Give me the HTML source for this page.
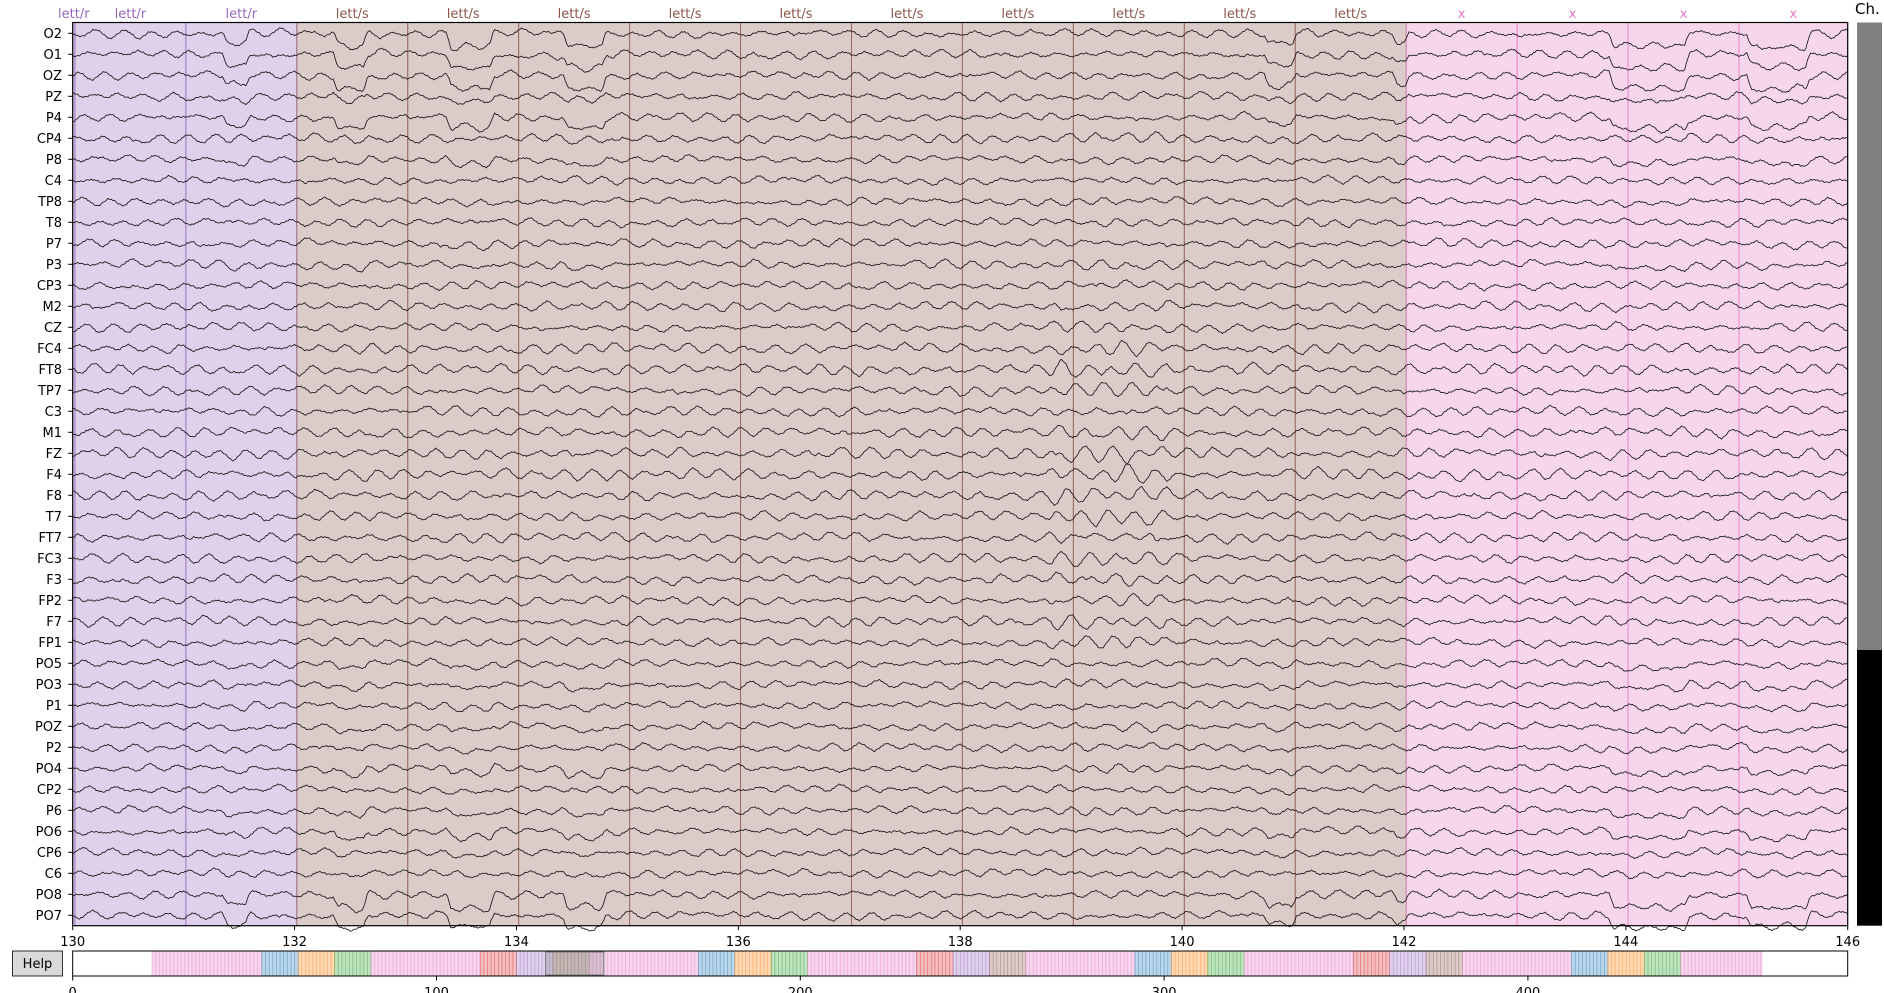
<!DOCTYPE html>
<html><head><meta charset="utf-8">
<style>
html,body{margin:0;padding:0;background:#fff;}
svg{display:block;font-family:"DejaVu Sans","Liberation Sans",sans-serif;}
</style></head>
<body>
<svg id="fig" width="1884" height="993" viewBox="0 0 1884 993" xmlns="http://www.w3.org/2000/svg">
  <rect x="0" y="0" width="1884" height="993" fill="#ffffff"/>
  <g id="ann-bg"></g>
  <g id="ann-lines"></g>
  <g id="traces"></g>
  <rect x="72.7" y="22.5" width="1775" height="903.2" fill="none" stroke="#000" stroke-width="1.2"/>
  <g id="ylabels" font-size="13" text-anchor="end"></g>
  <g id="ann-labels" font-size="13" text-anchor="middle"></g>
  <g id="xaxis" font-size="13" text-anchor="middle"></g>
  <text x="1855" y="14" font-size="15">Ch.</text>
  <rect x="1857" y="22.5" width="25" height="903.2" fill="#000"/>
  <rect x="1857" y="22.5" width="25" height="627.5" fill="#808080"/>
  <rect x="12.5" y="951" width="50" height="25" fill="#d9d9d9" stroke="#000" stroke-width="0.8"/>
  <text x="37.5" y="968" font-size="13" text-anchor="middle">Help</text>
  <g id="overview"></g>
</svg>
<script>
// ---- data ----
const channels = ["O2","O1","OZ","PZ","P4","CP4","P8","C4","TP8","T8","P7","P3","CP3","M2","CZ","FC4","FT8","TP7","C3","M1","FZ","F4","F8","T7","FT7","FC3","F3","FP2","F7","FP1","PO5","PO3","P1","POZ","P2","PO4","CP2","P6","PO6","CP6","C6","PO8","PO7"];
const stepGain = [1,1,1,0.3,0.8,0.1,0.3,0,0.1,0,0.1,0.2,0,0,0,0,0,0,0,0,0,0,0,0,0,0,0,0,0,0,0.3,0.3,0.2,0.3,0.2,0.4,0.1,0.3,0.5,0.2,0.1,1,0.9];
const wigGain = [1,1,1,1,1,1.1,0.9,0.9,0.9,1,1,1,1,1.1,1,1.2,1.3,1.1,1.1,1.2,1.3,1.3,1.2,1.1,1.1,1.1,1.1,1,1.1,1,0.9,0.9,0.9,0.9,0.9,0.9,0.9,0.9,0.9,0.9,0.9,1,1];
const burstGain = [0.8,0.8,0.8,1,1,1.3,1,1.1,1,1.1,1,1.2,1.3,1.3,1.3,1.7,1.8,1.6,1.6,1.6,1.7,1.8,1.9,1.8,1.8,1.7,1.7,1.6,1.7,1.6,1.2,1.1,1.2,1.2,1.2,1.2,1.2,1.2,1.1,1.1,1.2,0.8,0.8];
const wigA = [0,1.5,2,0.5,-2,-2.5,0,3,2,-1,-3,-1,1.5,3.5,1,-2,-1.5,1,2.5,0,-3,-2,1,2.5,0.5,-2,-1,1.5,3,0,-2.5,-1,1,2,-0.5,-2.5,-1.5,1,3,1.5,-1,-3,-1,1.5,2,0,-1.5,1];
const wigB = [0.5,1,0.5,-0.5,-1.5,-1,0,1,1.5,0.5,-1,-1.5,-0.5,1,1,0,-1,-0.5,0.5,1.5,0.5,-0.5,-1,-1,0,1,0.5,-0.5,-1,0,1];
const slow = [0,1,2,1.5,0,-1.5,-2,-1,0.5,1.5,1,-0.5,-2,-2.5,-1,1,2,2.5,1,-0.5,-1.5,-1,0.5,2,1.5,0,-1,-2,-1.5,0,1,0.5,-0.5,-1.5,-1,0.5,1.5];
const fine = [0.6,-0.4,0.2,-0.7,0.5,0.1,-0.5,0.7,-0.2,-0.6,0.4,0.3,-0.8,0.5,-0.1,0.6,-0.5,0.2,0.7,-0.6,-0.2,0.4,-0.3,0.8,-0.5,0.1,-0.7,0.3,0.5,-0.4,0,0.6,-0.6];
const stepDown = [131.35,132.35,133.37,134.42,140.74,141.90,143.85,145.09];
const stepUp   = [131.60,132.66,133.80,134.81,141.03,142.05,144.57,145.66];
const stepDepth = [10,13,13,13,10,8,13,13];
const burstStart = 138.8, burstEnd = 139.9;
const annOnsets = [129.02,130.02,131.02,132.02,133.02,134.02,135.02,136.02,137.02,138.02,139.02,140.02,141.02,142.02,143.02,144.02,145.02];
const annDesc = ["lett/r","lett/r","lett/r","lett/s","lett/s","lett/s","lett/s","lett/s","lett/s","lett/s","lett/s","lett/s","lett/s","x","x","x","x"];
const xTicks = [130,132,134,136,138,140,142,144,146];
const ovStarts = [21.8,52,62,72,82,112,122,132,142,172,182,192,202,232,242,252,262,292,302,312,322,352,362,372,382,412,422,432,442];
const ovEnds   = [52,62,72,82,112,122,132,142,172,182,192,202,232,242,252,262,292,302,312,322,352,362,372,382,412,422,432,442,464.5];
const ovDesc = ["x","b","o","g","x","r","lett/r","lett/s","x","b","o","g","x","r","lett/r","lett/s","x","b","o","g","x","r","lett/r","lett/s","x","b","o","g","x"];
const ovTicks = [0,100,200,300,400];
const tStart = 130, tEnd = 146, ovMax = 487.9;
// ---- styling ----
const colors = {"lett/r":"#9467bd","lett/s":"#8c564b","x":"#e377c2","b":"#1f77b4","o":"#ff7f0e","g":"#2ca02c","r":"#d62728"};
const NS = "http://www.w3.org/2000/svg";
const X0 = 72.7, X1 = 1847.7, Y0 = 22.5, Y1 = 925.7;
function xs(t){ return X0 + (t - tStart) / (tEnd - tStart) * (X1 - X0); }
function ys(i){ return 33.3 + 21.0 * i; }
function ox(s){ return X0 + s / ovMax * (X1 - X0); }
function mk(tag, attrs, parent){ const e = document.createElementNS(NS, tag); for (const k in attrs) e.setAttribute(k, attrs[k]); parent.appendChild(e); return e; }

const bg = document.getElementById('ann-bg'), al = document.getElementById('ann-lines'), lab = document.getElementById('ann-labels');
annOnsets.forEach((on, i) => {
  const a = Math.max(on, tStart), b = Math.min(on + 1, tEnd);
  if (b <= a) return;
  const r = mk('rect', {x: xs(a), y: Y0, width: xs(b) - xs(a), height: Y1 - Y0, fill: colors[annDesc[i]], 'fill-opacity': 0.3}, bg);
  
  
  [on, on + 1].forEach(t => {
    if (t >= tStart && t <= tEnd) {
      const l = mk('line', {x1: xs(t), x2: xs(t), y1: Y0, y2: Y1, stroke: colors[annDesc[i]], 'stroke-opacity': 0.6, 'stroke-width': 1}, al);
      
      
    }
  });
  const tx = mk('text', {x: xs((a + b) / 2), y: 18, fill: colors[annDesc[i]]}, lab);
  tx.textContent = annDesc[i];
  
  
});

function level(t){
  let v = 0;
  for (let k = 0; k < stepDown.length; k++) {
    const d = stepDown[k], u = stepUp[k], r = 0.04;
    if (t >= d && t <= u) v += stepDepth[k] * Math.min(1, (t - d) / r, (u - t) / r);
  }
  return v;
}
function slowAt(t, i){
  const p = (t - tStart) * 3 + i * 4.3;
  const k = Math.floor(p), f = p - k;
  return 0.6 * (slow[k % slow.length] * (1 - f) + slow[(k + 1) % slow.length] * f);
}
const tr = document.getElementById('traces'), yl = document.getElementById('ylabels');
const FS = 22, FINE = 66;
channels.forEach((ch, i) => {
  const C = [];
  const n = Math.round((tEnd - tStart) * FS);
  for (let k = 0; k <= n + 1; k++) {
    const t = tStart + k / FS;
    let g = wigGain[i];
    if (t > burstStart && t < burstEnd) g *= burstGain[i];
    C.push((wigA[(k + i * 7) % wigA.length] + wigB[(k + i * 5) % wigB.length]) * g);
  }
  const pts = [];
  const m = Math.round((tEnd - tStart) * FINE);
  for (let j = 0; j <= m; j++) {
    const t = tStart + j / FINE;
    const p = (t - tStart) * FS, k = Math.min(n, Math.floor(p)), f = p - k;
    const p0 = C[Math.max(0, k - 1)], p1 = C[k], p2 = C[k + 1], p3 = C[Math.min(C.length - 1, k + 2)];
    const v = 0.5 * ((2 * p1) + (-p0 + p2) * f + (2 * p0 - 5 * p1 + 4 * p2 - p3) * f * f + (-p0 + 3 * p1 - 3 * p2 + p3) * f * f * f);
    const y = ys(i) + v + slowAt(t, i) + fine[(j + i * 3) % fine.length] + stepGain[i] * level(t);
    pts.push(xs(t).toFixed(1) + ',' + y.toFixed(1));
  }
  const pl = mk('polyline', {points: pts.join(' '), fill: 'none', stroke: '#1a1a1a', 'stroke-width': 0.85, 'stroke-linejoin': 'round'}, tr);
  
  
  const tick = mk('line', {x1: X0 - 4.5, x2: X0, y1: ys(i), y2: ys(i), stroke: '#000', 'stroke-width': 1}, yl);
  
  
  const t = mk('text', {x: 62, y: ys(i) + 4.7}, yl);
  t.textContent = ch;
  
  
});

const xa = document.getElementById('xaxis');
xTicks.forEach(v => {
  const l = mk('line', {x1: xs(v), x2: xs(v), y1: Y1, y2: Y1 + 4.5, stroke: '#000', 'stroke-width': 1}, xa);
  
  
  const t = mk('text', {x: xs(v), y: 946}, xa);
  t.textContent = v;
  
  
});

const ov = document.getElementById('overview');
const OY0 = 951, OY1 = 976;
mk('rect', {x: X0, y: OY0, width: X1 - X0, height: OY1 - OY0, fill: '#fff'}, ov);
ovStarts.forEach((s, i) => {
  const e = ovEnds[i], c = colors[ovDesc[i]];
  const r = mk('rect', {x: ox(s), y: OY0, width: ox(e) - ox(s), height: OY1 - OY0, fill: c, 'fill-opacity': 0.3}, ov);
  
  
  for (let t = s; t <= e + 0.001; t += 1) {
    mk('line', {x1: ox(t), x2: ox(t), y1: OY0, y2: OY1, stroke: c, 'stroke-opacity': 0.45, 'stroke-width': 0.8}, ov);
  }
});
const vb = mk('rect', {x: ox(tStart), y: OY0 + 1, width: ox(tEnd) - ox(tStart), height: OY1 - OY0 - 2, fill: '#888', 'fill-opacity': 0.3, stroke: '#777', 'stroke-width': 1}, ov);


mk('rect', {x: X0, y: OY0, width: X1 - X0, height: OY1 - OY0, fill: 'none', stroke: '#000', 'stroke-width': 1}, ov);
ovTicks.forEach(v => {
  const l = mk('line', {x1: ox(v), x2: ox(v), y1: OY1, y2: OY1 + 4.5, stroke: '#000', 'stroke-width': 1}, ov);
  
  
  const t = mk('text', {x: ox(v), y: 997, 'font-size': 13, 'text-anchor': 'middle'}, ov);
  t.textContent = v;
  
  
});
</script>
</body></html>
